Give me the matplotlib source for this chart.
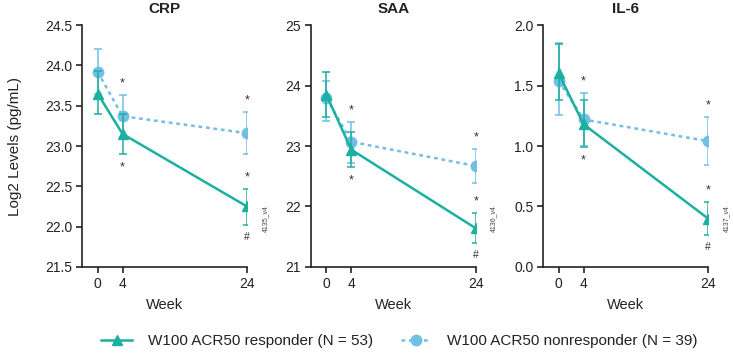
import matplotlib
matplotlib.use("Agg")
import matplotlib.pyplot as plt
from matplotlib.lines import Line2D

plt.rcParams['font.family'] = ['Liberation Sans', 'DejaVu Sans']

weeks = [0, 4, 24]
week_labels = ['0', '4', '24']
titles = ['CRP', 'SAA', 'IL-6']
codes = ['4135_v4', '4136_v4', '4137_v4']
ylims = [(21.5, 24.5), (21, 25), (0.0, 2.0)]
yticks = [[21.5, 22.0, 22.5, 23.0, 23.5, 24.0, 24.5],
          [21, 22, 23, 24, 25],
          [0.0, 0.5, 1.0, 1.5, 2.0]]
ytick_fmt = ['%.1f', '%d', '%.1f']

# responder (N = 53): mean, lower, upper
resp_mean = [[23.65, 23.15, 22.25], [23.85, 22.94, 21.64], [1.60, 1.18, 0.40]]
resp_lo = [[23.40, 22.90, 22.02], [23.48, 22.65, 21.40], [1.38, 0.99, 0.26]]
resp_hi = [[23.93, 23.40, 22.47], [24.22, 23.24, 21.90], [1.84, 1.38, 0.54]]
# nonresponder (N = 39)
non_mean = [[23.92, 23.37, 23.16], [23.80, 23.07, 22.67], [1.54, 1.22, 1.04]]
non_lo = [[23.65, 23.11, 22.90], [23.41, 22.72, 22.39], [1.26, 1.00, 0.84]]
non_hi = [[24.20, 23.63, 23.42], [24.08, 23.40, 22.95], [1.85, 1.44, 1.24]]

teal = '#1bb0a0'
blue = '#72bfe6'
dark = '#222222'
star_col = '#333333'

fig = plt.figure(figsize=(7.33, 3.54), dpi=100)
lefts = [0.112, 0.424, 0.741]

for i in range(3):
    ax = fig.add_axes([lefts[i], 0.246, 0.225, 0.683])
    rm, rl, rh = resp_mean[i], resp_lo[i], resp_hi[i]
    nm, nl, nh = non_mean[i], non_lo[i], non_hi[i]

    ax.errorbar(weeks, nm, yerr=[[m - l for m, l in zip(nm, nl)], [h - m for m, h in zip(nm, nh)]],
                color=blue, ls=(0, (1.5, 1.5)), lw=1.8, marker='o', ms=7.5,
                elinewidth=1.1, capsize=3, capthick=1.1, zorder=3)
    ax.errorbar(weeks, rm, yerr=[[m - l for m, l in zip(rm, rl)], [h - m for m, h in zip(rm, rh)]],
                color=teal, ls='-', lw=1.8, marker='^', ms=7.5,
                elinewidth=1.1, capsize=3, capthick=1.1, zorder=4)

    # significance marks
    for k in [1, 2]:
        ax.annotate('*', (weeks[k], nh[k]), xytext=(0, 4), textcoords='offset points',
                    ha='center', va='bottom', fontsize=9, color=star_col)
    ax.annotate('*', (weeks[1], rl[1]), xytext=(0, -14), textcoords='offset points',
                ha='center', va='bottom', fontsize=9, color=star_col)
    ax.annotate('*', (weeks[2], rh[2]), xytext=(0, 4), textcoords='offset points',
                ha='center', va='bottom', fontsize=9, color=star_col)
    ax.annotate('#', (weeks[2], rl[2]), xytext=(0, -5), textcoords='offset points',
                ha='center', va='top', fontsize=7.5, color=star_col)

    ax.set_xlim(-2.5, 24)
    ax.set_ylim(*ylims[i])
    ax.set_xticks(weeks)
    ax.set_xticklabels(week_labels)
    ax.set_yticks(yticks[i])
    ax.set_yticklabels([ytick_fmt[i] % v for v in yticks[i]])
    ax.spines['top'].set_visible(False)
    ax.spines['right'].set_visible(False)
    for s in ['left', 'bottom']:
        ax.spines[s].set_linewidth(1.2)
        ax.spines[s].set_color(dark)
    ax.tick_params(labelsize=10, width=1.2, length=4.5, pad=2.5, color=dark, labelcolor=dark)
    ax.set_xlabel('Week', fontsize=10.5, color=dark, labelpad=5)
    ax.set_title(titles[i], fontsize=11, fontweight='bold', color=dark, pad=9)
    ax.text(1.11, 0.2, codes[i], transform=ax.transAxes, rotation=90,
            fontsize=5, color='#444444', ha='center', va='center')
    if i == 0:
        ax.set_ylabel('Log2 Levels (pg/mL)', fontsize=11, color=dark, labelpad=17)

handles = [
    Line2D([], [], color=teal, ls='-', lw=1.8, marker='^', ms=7.5),
    Line2D([], [], color=blue, ls=(0, (1.5, 1.5)), lw=1.8, marker='o', ms=7.5),
]
labels = ['W100 ACR50 responder (N = 53)', 'W100 ACR50 nonresponder (N = 39)']
fig.legend(handles, labels, loc='center', bbox_to_anchor=(0.545, 0.037), ncol=2,
           frameon=False, fontsize=11, handlelength=2.0, columnspacing=1.8,
           handletextpad=1.05, labelcolor=dark, borderpad=0)

fig.savefig('out.png', dpi=100)
